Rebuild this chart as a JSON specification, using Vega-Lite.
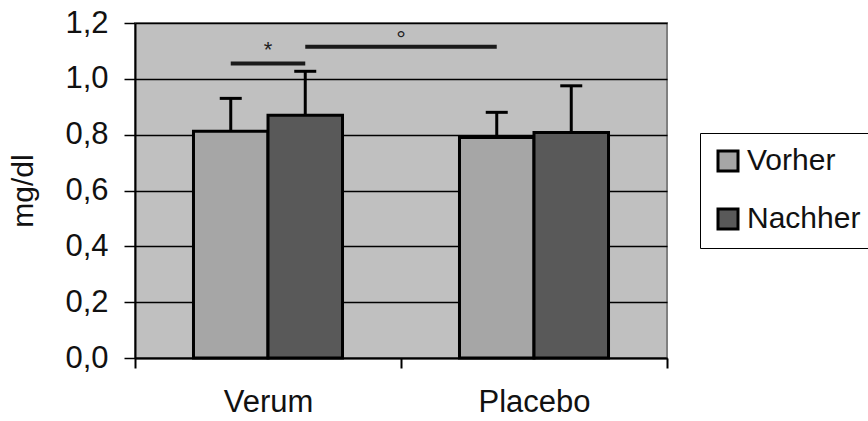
{
  "$schema": "https://vega.github.io/schema/vega-lite/v6.json",
  "width": 532,
  "height": 335,
  "autosize": {"type": "none"},
  "padding": {"left": 135, "top": 23, "right": 201, "bottom": 63},
  "background": "white",
  "config": {
    "font": "Liberation Sans",
    "view": {"fill": "#C0C0C0", "stroke": "#808080", "strokeWidth": 2}
  },
  "datasets": {
    "bars": [
      {"grp": "Verum", "series": "Vorher", "value": 0.812, "err": 0.93},
      {"grp": "Verum", "series": "Nachher", "value": 0.87, "err": 1.027},
      {"grp": "Placebo", "series": "Vorher", "value": 0.79, "err": 0.88},
      {"grp": "Placebo", "series": "Nachher", "value": 0.808, "err": 0.975}
    ],
    "sig": [
      {"cmp": "a", "grp": "Verum", "series": "Vorher", "y": 1.055},
      {"cmp": "a", "grp": "Verum", "series": "Nachher", "y": 1.055},
      {"cmp": "b", "grp": "Verum", "series": "Nachher", "y": 1.115},
      {"cmp": "b", "grp": "Placebo", "series": "Vorher", "y": 1.115}
    ],
    "labels": [
      {"label": "*", "grp": "Verum", "y": 1.105},
      {"label": "°", "grp": "Placebo", "y": 1.14}
    ]
  },
  "layer": [
    {
      "data": {"name": "bars"},
      "mark": {"type": "bar", "stroke": "black", "strokeWidth": 3},
      "encoding": {
        "x": {
          "field": "grp", "type": "nominal", "sort": ["Verum", "Placebo"],
          "scale": {"paddingInner": 0, "paddingOuter": 0},
          "axis": {
            "title": null, "labelAngle": 0, "labelFontSize": 31, "labelColor": "#111111",
            "domainColor": "black", "domainWidth": 2, "tickColor": "black", "tickWidth": 2,
            "tickSize": 10, "tickBand": "extent", "labelPadding": 19, "grid": false
          }
        },
        "xOffset": {
          "field": "series", "type": "nominal", "sort": ["Vorher", "Nachher"],
          "scale": {"paddingInner": 0, "paddingOuter": 0.785}
        },
        "y": {
          "field": "value", "type": "quantitative", "title": "mg/dl",
          "scale": {"domain": [0, 1.2], "nice": false},
          "axis": {
            "title": "mg/dl", "titleFontSize": 30, "titleFontWeight": "normal", "titleColor": "#111111",
            "titlePadding": 26,
            "values": [0, 0.2, 0.4, 0.6, 0.8, 1.0, 1.2],
            "labelExpr": "replace(format(datum.value, '.1f'), '.', ',')",
            "labelFontSize": 31, "labelColor": "#111111", "labelPadding": 16,
            "grid": true, "gridColor": "black", "gridWidth": 1.5,
            "tickColor": "black", "tickWidth": 1.5, "tickSize": 11,
            "domainColor": "black", "domainWidth": 2
          }
        },
        "color": {
          "field": "series", "type": "nominal", "sort": ["Vorher", "Nachher"],
          "scale": {"domain": ["Vorher", "Nachher"], "range": ["#A6A6A6", "#595959"]},
          "legend": {
            "orient": "none", "legendX": 565, "legendY": 110, "title": null,
            "labelFontSize": 30, "labelColor": "#111111", "labelOffset": 4,
            "symbolType": "square", "symbolSize": 400, "symbolStrokeColor": "black",
            "symbolStrokeWidth": 3, "strokeColor": "black", "fillColor": "white",
            "padding": 13, "rowPadding": 26
          }
        }
      }
    },
    {
      "data": {"name": "bars"},
      "mark": {"type": "rule", "color": "black", "strokeWidth": 3},
      "encoding": {
        "x": {"field": "grp", "type": "nominal", "sort": ["Verum", "Placebo"]},
        "xOffset": {"field": "series", "type": "nominal", "sort": ["Vorher", "Nachher"]},
        "y": {"field": "value", "type": "quantitative", "title": "mg/dl"},
        "y2": {"field": "err"}
      }
    },
    {
      "data": {"name": "bars"},
      "mark": {"type": "tick", "color": "black", "thickness": 3, "size": 22, "opacity": 1},
      "encoding": {
        "x": {"field": "grp", "type": "nominal", "sort": ["Verum", "Placebo"]},
        "xOffset": {"field": "series", "type": "nominal", "sort": ["Vorher", "Nachher"]},
        "y": {"field": "err", "type": "quantitative", "title": "mg/dl"}
      }
    },
    {
      "data": {"name": "sig"},
      "mark": {"type": "line", "color": "#1a1a1a", "strokeWidth": 4},
      "encoding": {
        "x": {"field": "grp", "type": "nominal", "sort": ["Verum", "Placebo"]},
        "xOffset": {"field": "series", "type": "nominal", "sort": ["Vorher", "Nachher"]},
        "y": {"field": "y", "type": "quantitative", "title": "mg/dl"},
        "detail": {"field": "cmp", "type": "nominal"}
      }
    },
    {
      "data": {"name": "labels"},
      "transform": [{"filter": "datum.label == '*'"}],
      "mark": {"type": "text", "fontSize": 22, "color": "#222222", "baseline": "middle"},
      "encoding": {
        "x": {"field": "grp", "type": "nominal", "sort": ["Verum", "Placebo"]},
        "y": {"field": "y", "type": "quantitative", "title": "mg/dl"},
        "text": {"field": "label"}
      }
    },
    {
      "data": {"name": "labels"},
      "transform": [{"filter": "datum.label != '*'"}],
      "mark": {"type": "text", "fontSize": 24, "color": "#222222", "baseline": "middle"},
      "encoding": {
        "x": {"field": "grp", "type": "nominal", "sort": ["Verum", "Placebo"], "bandPosition": 0},
        "y": {"field": "y", "type": "quantitative", "title": "mg/dl"},
        "text": {"field": "label"}
      }
    }
  ]
}
